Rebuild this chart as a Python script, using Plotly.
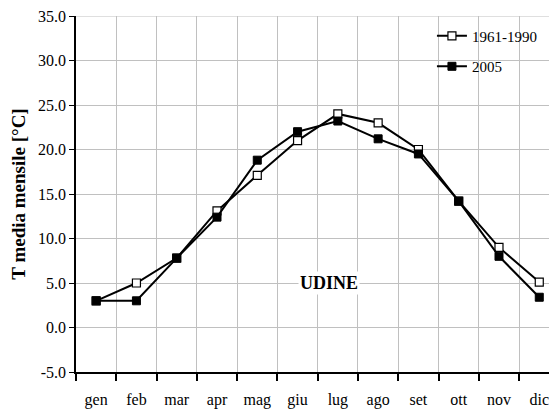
import plotly.graph_objects as go

months = ["gen", "feb", "mar", "apr", "mag", "giu", "lug", "ago", "set", "ott", "nov", "dic"]
t_1961_1990 = [3.0, 5.0, 7.8, 13.1, 17.1, 21.0, 24.0, 23.0, 20.0, 14.2, 9.0, 5.1]
t_2005 = [3.0, 3.0, 7.8, 12.4, 18.8, 22.0, 23.2, 21.2, 19.5, 14.2, 8.0, 3.4]
y_ticks = [-5, 0, 5, 10, 15, 20, 25, 30, 35]
y_labels = ["-5.0", "0.0", "5.0", "10.0", "15.0", "20.0", "25.0", "30.0", "35.0"]

SERIF = "Liberation Serif, Times New Roman, serif"

fig = go.Figure()
fig.add_trace(go.Scatter(
    x=months, y=t_1961_1990, name="1961-1990", mode="lines+markers", legendgroup="a",
    line=dict(color="black", width=2),
    marker=dict(symbol="square", size=8, color="white", line=dict(color="black", width=1.2)),
))
fig.add_trace(go.Scatter(
    x=months, y=t_2005, name="2005", mode="lines+markers", legendgroup="b",
    line=dict(color="black", width=2),
    marker=dict(symbol="square", size=8, color="black", line=dict(color="black", width=1)),
))

fig.add_annotation(x="lug", y=5.0, xshift=-9, text="<b>UDINE</b>", showarrow=False,
                   font=dict(family=SERIF, size=18, color="black"), bgcolor="white")

# top gridline of the plot area (at the highest y tick)
fig.add_hline(y=y_ticks[-1], line=dict(color="#c0c0c0", width=1), layer="below")

fig.update_layout(
    width=549, height=408,
    margin=dict(l=68, r=0, t=8, b=44),
    paper_bgcolor="white", plot_bgcolor="white",
    font=dict(family=SERIF, size=16, color="black"),
    showlegend=True,
    legend=dict(x=0.74, y=0.99, xanchor="left", yanchor="top", bgcolor="rgba(255,255,255,0)",
                font=dict(family=SERIF, size=15, color="black"),
                traceorder="grouped", tracegroupgap=8),
    xaxis=dict(
        type="category", categoryorder="array", categoryarray=months,
        range=[-0.5, 11.44], tickson="boundaries",
        showgrid=True, gridcolor="#c0c0c0", gridwidth=1,
        showline=True, linecolor="black", linewidth=1.5,
        ticks="outside", ticklen=7, tickcolor="black", tickwidth=1.5,
        tickfont=dict(family=SERIF, size=16), zeroline=False, automargin=False,
        ticklabelstandoff=12,
    ),
    yaxis=dict(
        range=[-5, 35], tickvals=y_ticks, ticktext=y_labels,
        showgrid=True, gridcolor="#c0c0c0", gridwidth=1,
        showline=True, linecolor="black", linewidth=1.5,
        ticks="outside", ticklen=5, tickcolor="black", tickwidth=1,
        tickfont=dict(family=SERIF, size=16), zeroline=False, automargin=False,
        ticklabeloverflow="allow",
        title=dict(text="<b>T media mensile [°C]</b>", font=dict(family=SERIF, size=19)),
    ),
)

fig.write_html("out.html")
